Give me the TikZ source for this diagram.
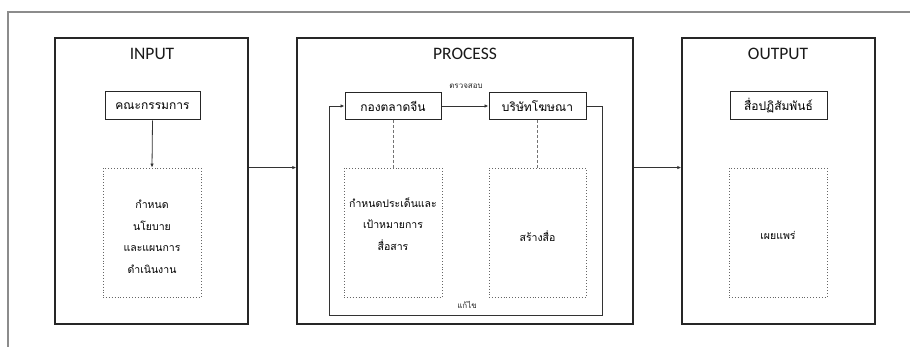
\documentclass[tikz,border=0pt]{standalone}
\usepackage{fontspec}
\setmainfont{Carlito}
\newfontfamily\thai[Script=Thai]{Loma}
\usetikzlibrary{arrows.meta}

\tikzset{
  frameline/.style={draw=black!45, line width=1.3pt},
  bigbox/.style={draw=black!85, line width=1.5pt, minimum width=193pt, minimum height=286pt, inner sep=0pt},
  title/.style={font=\fontsize{17.5}{20}\selectfont, text=black!90},
  unitbox/.style={draw=black!85, line width=1pt, minimum width=96pt, minimum height=27pt, inner sep=0pt, font=\thai\fontsize{12}{14}\selectfont},
  dotbox/.style={draw=black!60, dotted, line width=0.9pt, minimum width=98pt, minimum height=129pt, inner sep=0pt, align=center, font=\thai\fontsize{10.5}{21.5}\selectfont},
  conn/.style={-{Latex[length=4pt,width=3.5pt]}, draw=black!80, line width=0.8pt},
  link/.style={draw=black!55, dashed, line width=0.9pt, dash pattern=on 3pt off 2pt},
  smalltxt/.style={font=\thai\fontsize{8}{9}\selectfont, text=black!85}
}

\begin{document}
\begin{tikzpicture}[x=1pt, y=-1pt]
  \useasboundingbox (0,0) rectangle (910,347);
  \fill[white] (0,0) rectangle (910,347);

  % page frame (top and left edges)
  \draw[frameline] (910,12) -- (8,12) -- (8,347);

  % three stages
  \node[bigbox] (inp)  at (151.5,181) {};
  \node[bigbox, minimum width=336pt] (proc) at (465,181) {};
  \node[bigbox] (out)  at (778.5,181) {};

  \node[title] (tin)  at (152,54) {INPUT};
  \node[title] (tpr)  at (465,54) {PROCESS};
  \node[title] (tout) at (778,54) {OUTPUT};

  % units
  \node[unitbox, minimum width=95pt, minimum height=28pt] (kc) at (152.5,106) {คณะกรรมการ};
  \node[unitbox] (kt) at (393,106) {กองตลาดจีน};
  \node[unitbox, minimum width=97pt] (ad) at (537.5,106) {บริษัทโฆษณา};
  \node[unitbox, minimum width=97pt, minimum height=28pt] (sp) at (778.5,106) {สื่อปฏิสัมพันธ์};

  % tasks
  \node[dotbox] (d1) at (152,232.5) {};
  \node[dotbox] (d2) at (393,232.5) {};
  \node[dotbox, minimum width=97pt] (d3) at (537.5,232.5) {};
  \node[dotbox] (d4) at (778,232.5) {};

  \node[dotbox, draw=none, minimum height=0pt] (d1t) at (152,237) {กำหนด\\นโยบาย\\และแผนการ\\ดำเนินงาน};
  \node[dotbox, draw=none, minimum height=0pt] (d2t) at (393,224) {กำหนดประเด็นและ\\เป้าหมายการ\\สื่อสาร};
  \node[dotbox, draw=none, minimum height=0pt] (d3t) at (537.5,236) {สร้างสื่อ};
  \node[dotbox, draw=none, minimum height=0pt] (d4t) at (778,235) {เผยแพร่};

  % connectors
  \draw[conn] (kc.south) -- (d1.north);
  \draw[conn] (d1.north -| inp.east) -- (d1.north -| proc.west);
  \draw[conn] (d3.north -| proc.east) -- (d3.north -| out.west);

  \draw[conn] (kt.east) -- (ad.west);
  \node[smalltxt] (chk) at (466,86) {ตรวจสอบ};

  \coordinate (fbR) at (602,315);
  \coordinate (fbL) at (329,315);
  \draw[conn] (ad.east) -| (fbR) -- (fbL) |- (kt.west);
  \node[smalltxt] (fix) at (467,305) {แก้ไข};

  \draw[link] (kt.south) -- (d2.north);
  \draw[link] (ad.south) -- (d3.north);
\end{tikzpicture}
\end{document}
